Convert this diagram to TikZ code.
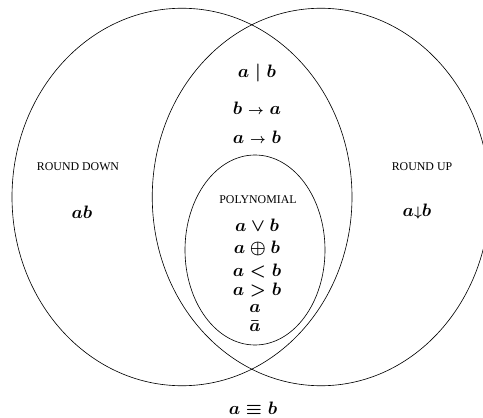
\documentclass[tikz,border=0pt]{standalone}
\usepackage{amsmath,amssymb}
\usepackage{fontspec}
\setmainfont{Liberation Serif}
\usepackage{tikz}
\tikzset{
  region/.style = {draw, line width=0.5pt},
  lbl/.style    = {font=\fontsize{9.5}{11}\selectfont, inner sep=1pt},
  op/.style     = {font=\fontsize{15}{18}\selectfont\boldmath, inner sep=1pt},
}

\begin{document}
\begin{tikzpicture}[x=0.8pt,y=-0.8pt]
  \useasboundingbox (0,0) rectangle (483,418);
  \clip (0,0) rectangle (483,418);
  % the three regions
  \draw[region] (182,197) ellipse [x radius=136pt, y radius=151pt];
  \draw[region] (321,197) ellipse [x radius=135pt, y radius=151pt];
  \draw[region] (255,250) ellipse [x radius=56pt, y radius=76pt];
  % left only
  \node[lbl] (down) at (78,167) {ROUND DOWN};
  \node[op]  (ab)   at (82,212) {$ab$};
  % right only
  \node[lbl] (up)   at (422,167) {ROUND UP};
  \node[op]  (nor)  at (417,212) {$a{\scriptstyle\downarrow}b$};
  % both, outside the inner one
  \node[op]  (nand) at (257,73)  {$a \mathrel{|} b$};
  \node[op]  (ba)   at (257,108) {$b \mathrel{\scriptstyle\rightarrow} a$};
  \node[op]  (atob) at (257,137) {$a \mathrel{\scriptstyle\rightarrow} b$};
  % inner region
  \node[lbl] (poly) at (258,200) {POLYNOMIAL};
  \node[op]  (or)   at (257,225) {$a \vee b$};
  \node[op]  (xor)  at (257,248) {$a \oplus b$};
  \node[op]  (lt)   at (257,271) {$a < b$};
  \node[op]  (gt)   at (257,290) {$a > b$};
  \node[op]  (id)   at (255,308) {$a$};
  \node[op]  (neg)  at (255,326) {$\bar{a}$};
  % outside everything
  \node[op]  (eqv)  at (253,408) {$a \equiv b$};
\end{tikzpicture}
\end{document}
